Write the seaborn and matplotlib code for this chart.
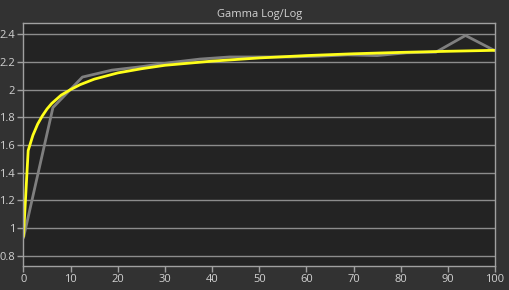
import matplotlib
matplotlib.use("Agg")
import matplotlib.pyplot as plt
import seaborn as sns
import pandas as pd

measured_x = [0, 6.25, 12.5, 18.75, 25, 31.25, 37.5, 43.75, 50, 56.25, 62.5, 68.75, 75, 81.25, 87.5, 93.75, 100]
measured_y = [0.93, 1.87, 2.09, 2.14, 2.165, 2.195, 2.22, 2.235, 2.235, 2.235, 2.24, 2.25, 2.245, 2.265, 2.27, 2.39, 2.28]

target_x = [0, 1, 2, 3, 4, 5, 6, 8, 10, 12, 15, 20, 25, 30, 40, 50, 60, 70, 80, 90, 100]
target_y = [0.94, 1.56, 1.67, 1.75, 1.81, 1.86, 1.9, 1.96, 2.0, 2.035, 2.075, 2.12, 2.15, 2.175, 2.205, 2.228, 2.245, 2.258, 2.268, 2.276, 2.283]

x_ticks = [0, 10, 20, 30, 40, 50, 60, 70, 80, 90, 100]
y_ticks = [0.8, 1, 1.2, 1.4, 1.6, 1.8, 2, 2.2, 2.4]
y_labels = ["0.8", "1", "1.2", "1.4", "1.6", "1.8", "2", "2.2", "2.4"]

sns.set_style("dark")
plt.rcParams['font.family'] = ['Open Sans', 'DejaVu Sans']

fig = plt.figure(figsize=(5.1, 2.9), dpi=100, facecolor="#323232")
ax = fig.add_axes([0.046, 0.083, 0.9245, 0.8377])
ax.set_facecolor("#232323")

df_m = pd.DataFrame({"x": measured_x, "y": measured_y})
df_t = pd.DataFrame({"x": target_x, "y": target_y})
sns.lineplot(data=df_m, x="x", y="y", ax=ax, color="#7f7f7f", linewidth=2.0)
sns.lineplot(data=df_t, x="x", y="y", ax=ax, color="#ffff1a", linewidth=2.0)

ax.set_xlim(0, 100)
ax.set_ylim(0.728, 2.48)
ax.set_xticks(x_ticks)
ax.set_yticks(y_ticks)
ax.set_yticklabels(y_labels)
ax.set_xlabel("")
ax.set_ylabel("")
ax.grid(False)
for yv in y_ticks:
    ax.axhline(yv, color="#8c8c8c", linewidth=1.0, zorder=0.5)
for s in ax.spines.values():
    s.set_visible(True)
    s.set_color("#a0a0a0")
    s.set_linewidth(1.0)
ax.tick_params(axis="both", colors="#a0a0a0", labelcolor="#d2d2d2", labelsize=8,
               length=4, width=1, direction="out", pad=2)
ax.tick_params(left=True, bottom=True)
ax.set_title("Gamma Log/Log", color="#d2d2d2", fontsize=8, pad=4)

fig.savefig("out.png", dpi=100, facecolor=fig.get_facecolor())
